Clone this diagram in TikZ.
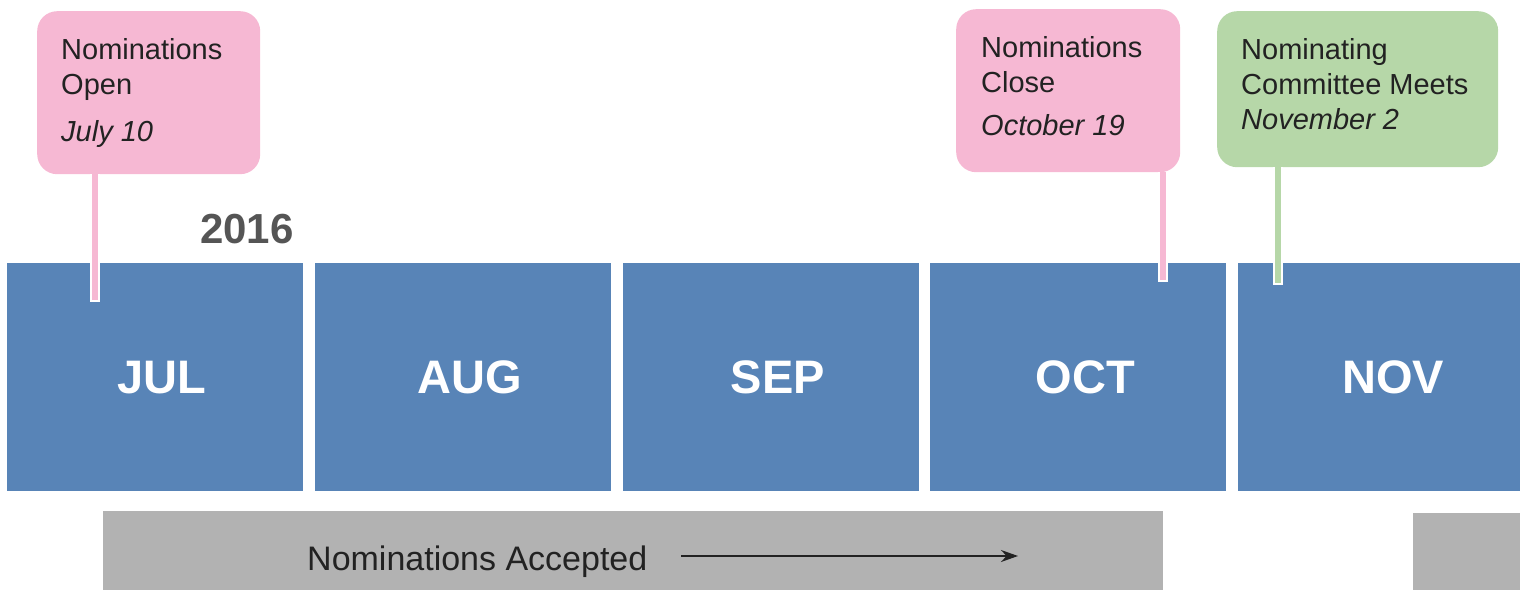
\documentclass[tikz,border=0pt]{standalone}
\usepackage{fontspec}
\setmainfont{Liberation Sans}
\usetikzlibrary{arrows.meta}

\definecolor{monthblue}{RGB}{88,132,183}
\definecolor{notepink}{RGB}{246,184,211}
\definecolor{notegreen}{RGB}{182,215,168}
\definecolor{bargrey}{RGB}{178,178,178}
\definecolor{textdark}{RGB}{34,34,34}
\definecolor{yeargrey}{RGB}{85,85,85}

\begin{document}
\begin{tikzpicture}[x=1pt, y=-1pt,
  month/.style={fill=monthblue, minimum width=296pt, minimum height=228pt, inner sep=0, anchor=north west},
  monthname/.style={xshift=7pt, text=white, font=\fontsize{47}{56}\selectfont\bfseries},
  callout/.style={rounded corners=20pt, inner sep=0, anchor=north west},
  notetext/.style={inner sep=0, anchor=north west, align=left, text=textdark, font=\fontsize{29}{35}\selectfont},
  bar/.style={fill=bargrey, inner sep=0, anchor=north west}]
\useasboundingbox (0,0) rectangle (1520,591);
\clip (0,0) rectangle (1520,591);

\foreach \m [count=\i from 0, evaluate=\i as \xl using 7+307.75*\i] in {JUL,AUG,SEP,OCT,NOV} {
 \node[month, label={[monthname]center:\m}] (\m) at (\xl,263) {};
}
\node[anchor=base west, inner sep=0, text=yeargrey, font=\fontsize{42}{50}\selectfont\bfseries] (year) at (200,243) {2016};

\node[callout, fill=notepink, minimum width=223pt, minimum height=163pt] (open) at (37,11) {};
\node[callout, fill=notepink, minimum width=224pt, minimum height=163pt] (close) at (956,9) {};
\node[callout, fill=notegreen, minimum width=281pt, minimum height=156pt] (meet) at (1217,11) {};
\node[notetext] (opentext) at ([shift={(24pt,-27pt)}]open.north west)
 {Nominations\\Open\\[12pt]\textit{July 10}};
\node[notetext] (closetext) at ([shift={(25pt,-27pt)}]close.north west)
 {Nominations\\Close\\[8pt]\textit{October 19}};
\node[notetext] (meettext) at ([shift={(24pt,-27pt)}]meet.north west)
 {Nominating\\Committee Meets\\\textit{November 2}};

\coordinate (openpin) at (95,300);
\coordinate (closepin) at (1163,280);
\coordinate (meetpin) at (1277.5,283);
\foreach \n/\c in {open/notepink, close/notepink, meet/notegreen} {
 \draw[white, line width=10pt] (\n.south -| \n pin) -- ([yshift=-2pt]\n pin);
 \draw[\c, line width=6pt] (\n.south -| \n pin) -- (\n pin);
}

\node[bar, minimum width=1060pt, minimum height=79pt] (accepted) at (103,511) {};
\node[bar, minimum width=107pt, minimum height=77pt] (nextbar) at (1413,513) {};
\node[anchor=base west, inner sep=0, text=textdark, font=\fontsize{34}{40}\selectfont] (acclabel) at (307,570) {Nominations Accepted};
\coordinate (accstart) at (681,556);
\coordinate (accend) at (1018,556);
\draw[textdark, line width=1.5pt, -{Stealth[length=17pt, width=12pt]}] (accstart) -- (accend);
\end{tikzpicture}
\end{document}
